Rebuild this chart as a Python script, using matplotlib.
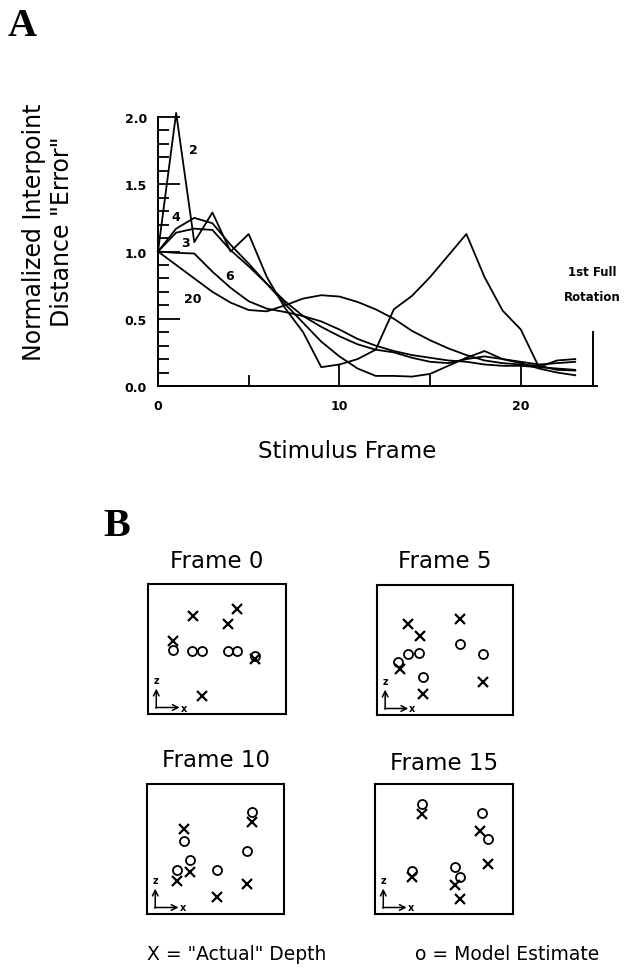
import numpy as np
import matplotlib
matplotlib.use("Agg")
import matplotlib.pyplot as plt
from matplotlib.ticker import FixedLocator

# ---------------- data: panel A ----------------
frames = list(range(24))
err_2 = [1.00, 2.03, 1.07, 1.29, 1.00, 1.13, 0.81, 0.58, 0.40, 0.14, 0.16, 0.20,
         0.27, 0.57, 0.67, 0.81, 0.97, 1.13, 0.81, 0.56, 0.42, 0.14, 0.19, 0.20]
err_3 = [1.00, 1.14, 1.17, 1.16, 1.01, 0.89, 0.76, 0.63, 0.52, 0.44, 0.37, 0.31,
         0.27, 0.25, 0.21, 0.18, 0.17, 0.20, 0.22, 0.20, 0.18, 0.16, 0.17, 0.18]
err_4 = [1.00, 1.17, 1.25, 1.21, 1.05, 0.91, 0.76, 0.61, 0.47, 0.33, 0.22, 0.13,
         0.075, 0.075, 0.07, 0.09, 0.15, 0.21, 0.26, 0.20, 0.17, 0.13, 0.10, 0.08]
err_6 = [1.00, 0.99, 0.985, 0.85, 0.73, 0.63, 0.575, 0.55, 0.52, 0.48, 0.42, 0.35,
         0.30, 0.26, 0.23, 0.21, 0.19, 0.18, 0.16, 0.15, 0.15, 0.14, 0.13, 0.12]
err_20 = [1.00, 0.90, 0.80, 0.70, 0.62, 0.565, 0.555, 0.60, 0.65, 0.675, 0.665, 0.625,
          0.57, 0.50, 0.41, 0.34, 0.28, 0.23, 0.19, 0.17, 0.16, 0.15, 0.12, 0.115]
curve_labels = ["2", "3", "4", "6", "20"]
label_x = [1.93, 1.49, 0.99, 3.97, 1.93]
label_y = [1.76, 1.07, 1.26, 0.82, 0.65]
rotation_frame = 24
rotation_height = 0.40

# ---------------- data: panel B ----------------
box_titles = ["Frame 0", "Frame 5", "Frame 10", "Frame 15"]
actual_x = [
    [0.328, 0.643, 0.582, 0.182, 0.776, 0.389],
    [0.228, 0.314, 0.608, 0.167, 0.779, 0.338],
    [0.267, 0.218, 0.315, 0.510, 0.728, 0.765],
    [0.338, 0.761, 0.821, 0.266, 0.580, 0.616],
]
actual_z = [
    [0.756, 0.808, 0.692, 0.564, 0.423, 0.141],
    [0.700, 0.605, 0.738, 0.354, 0.256, 0.162],
    [0.654, 0.256, 0.321, 0.128, 0.231, 0.705],
    [0.769, 0.641, 0.385, 0.282, 0.223, 0.115],
]
model_x = [
    [0.182, 0.316, 0.389, 0.582, 0.643, 0.776],
    [0.228, 0.309, 0.608, 0.779, 0.154, 0.338],
    [0.267, 0.218, 0.315, 0.510, 0.728, 0.765],
    [0.338, 0.773, 0.821, 0.266, 0.580, 0.616],
]
model_z = [
    [0.495, 0.487, 0.487, 0.487, 0.487, 0.444],
    [0.469, 0.475, 0.546, 0.469, 0.405, 0.290],
    [0.564, 0.341, 0.415, 0.341, 0.487, 0.782],
    [0.846, 0.777, 0.577, 0.333, 0.359, 0.282],
]

W, H = 627, 979
fig = plt.figure(figsize=(W / 100, H / 100), dpi=100)
plt.rcParams['font.family'] = ['DejaVu Sans']


def px_rect(left, top, right, bottom):
    return [left / W, 1 - bottom / H, (right - left) / W, (bottom - top) / H]


# ---------------- panel A ----------------
ax = fig.add_axes(px_rect(158, 118, 597, 387))
for ys in [err_2, err_3, err_4, err_6, err_20]:
    ax.plot(frames, ys, color='black', lw=1.3, clip_on=False)
ax.set_xlim(0, 24.2)
ax.set_ylim(0, 2.0)
for s in ['top', 'right']:
    ax.spines[s].set_visible(False)
for s in ['left', 'bottom']:
    ax.spines[s].set_linewidth(1.4)
ax.set_xticks([0, 10, 20])
ax.set_xticklabels(['0', '10', '20'])
ax.xaxis.set_minor_locator(FixedLocator([5, 15]))
ax.set_yticks([0, 0.5, 1.0, 1.5, 2.0])
ax.set_yticklabels(['0.0', '0.5', '1.0', '1.5', '2.0'])
ax.yaxis.set_minor_locator(FixedLocator(np.arange(0.1, 2.0, 0.1)))
ax.tick_params(which='major', direction='in', length=16, width=1.3, pad=8,
               labelsize=9)
ax.tick_params(which='minor', direction='in', length=8, width=1.3)
for lab in ax.get_xticklabels() + ax.get_yticklabels():
    lab.set_fontweight('bold')
ax.tick_params(axis='x', which='major', pad=9)

for t, lx, ly in zip(curve_labels, label_x, label_y):
    ax.text(lx, ly, t, fontsize=9, fontweight='bold', ha='center', va='center')

ax.plot([rotation_frame, rotation_frame], [0, rotation_height], color='black',
        lw=1.4, clip_on=False)
ax.text(rotation_frame - 0.05, 0.76, "1st Full\nRotation", fontsize=8.5,
        fontweight='bold', ha='center', va='center', linespacing=2.2)

fig.text(347 / W, 1 - 452 / H, "Stimulus Frame", fontsize=16.5, ha='center', va='center')
fig.text(48 / W, 1 - 232 / H, "Normalized Interpoint\nDistance \"Error\"", fontsize=17,
         rotation=90, ha='center', va='center', linespacing=1.25, multialignment='center')

fig.text(22 / W, 1 - 27 / H, "A", fontsize=29, fontweight='bold',
         family='Liberation Serif', ha='center', va='center')
fig.text(117 / W, 1 - 527 / H, "B", fontsize=29, fontweight='bold',
         family='Liberation Serif', ha='center', va='center')

# ---------------- panel B ----------------
boxes = [(148, 585, 286, 715), (377, 586, 513, 716),
         (147, 785, 284, 915), (375, 785, 513, 915)]
title_y = [562, 562, 761, 763]
for i, (l, t, r, b) in enumerate(boxes):
    bx = fig.add_axes(px_rect(l, t, r, b))
    bx.set_xlim(0, 1)
    bx.set_ylim(0, 1)
    bx.set_xticks([])
    bx.set_yticks([])
    for s in bx.spines.values():
        s.set_linewidth(1.5)
    bx.plot(actual_x[i], actual_z[i], linestyle='none', marker='x', ms=7.5,
            mew=1.6, color='black')
    bx.plot(model_x[i], model_z[i], linestyle='none', marker='o', ms=6.5,
            mew=1.3, mfc='none', mec='black')
    # axis indicator
    bx.annotate("", xy=(0.06, 0.195), xytext=(0.06, 0.045), xycoords='axes fraction',
                arrowprops=dict(arrowstyle='->', lw=1.1, color='black',
                                shrinkA=0, shrinkB=0))
    bx.annotate("", xy=(0.23, 0.05), xytext=(0.055, 0.05), xycoords='axes fraction',
                arrowprops=dict(arrowstyle='->', lw=1.1, color='black',
                                shrinkA=0, shrinkB=0))
    bx.text(0.06, 0.26, "z", transform=bx.transAxes, fontsize=7, fontweight='bold',
            ha='center', va='center')
    bx.text(0.26, 0.05, "x", transform=bx.transAxes, fontsize=7, fontweight='bold',
            ha='center', va='center')
    fig.text((l + r) / 2 / W, 1 - title_y[i] / H, box_titles[i], fontsize=16.5,
             ha='center', va='center')

fig.text(237 / W, 1 - 955 / H, "X = \"Actual\" Depth", fontsize=13.5,
         ha='center', va='center')
fig.text(507 / W, 1 - 955 / H, "o = Model Estimate", fontsize=13.5,
         ha='center', va='center')

fig.savefig("out.png", dpi=100)
